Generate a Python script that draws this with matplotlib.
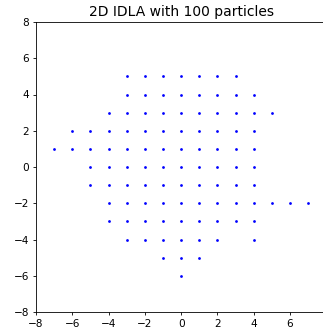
import matplotlib
matplotlib.use("Agg")
import matplotlib.pyplot as plt

title = "2D IDLA with 100 particles"

# occupied lattice sites, row by row (top to bottom)
x_sites = [
    -3, -2, -1, 0, 1, 2, 3,
    -3, -2, -1, 0, 1, 2, 3, 4,
    -4, -3, -2, -1, 0, 1, 2, 3, 4, 5,
    -6, -5, -4, -3, -2, -1, 0, 1, 2, 3, 4,
    -7, -6, -5, -4, -3, -2, -1, 0, 1, 2, 3, 4,
    -5, -4, -3, -2, -1, 0, 1, 2, 3, 4,
    -5, -4, -3, -2, -1, 0, 1, 2, 3, 4,
    -4, -3, -2, -1, 0, 1, 2, 3, 4, 5, 6, 7,
    -4, -3, -2, -1, 0, 1, 2, 3, 4,
    -3, -2, -1, 0, 1, 2, 4,
    -1, 0, 1,
    0,
]
y_sites = (
    [5] * 7 + [4] * 8 + [3] * 10 + [2] * 11 + [1] * 12 + [0] * 10
    + [-1] * 10 + [-2] * 12 + [-3] * 9 + [-4] * 7 + [-5] * 3 + [-6] * 1
)

ticks = [-8, -6, -4, -2, 0, 2, 4, 6, 8]

fig = plt.figure(figsize=(3.23, 3.32), dpi=100)
ax = fig.add_axes([36 / 323, 20 / 332, 290.3 / 323, 290 / 332])
ax.scatter(x_sites, y_sites, s=4, color="blue", linewidths=0)
ax.set_xlim(-8, 8)
ax.set_ylim(-8, 8)
ax.set_xticks(ticks)
ax.set_yticks(ticks)
ax.tick_params(labelsize=7.6, length=2.5, width=0.6, pad=2.5)
for sp in ax.spines.values():
    sp.set_linewidth(0.6)
ax.set_title(title, fontsize=10, pad=4)
fig.savefig("out.png", dpi=100)
